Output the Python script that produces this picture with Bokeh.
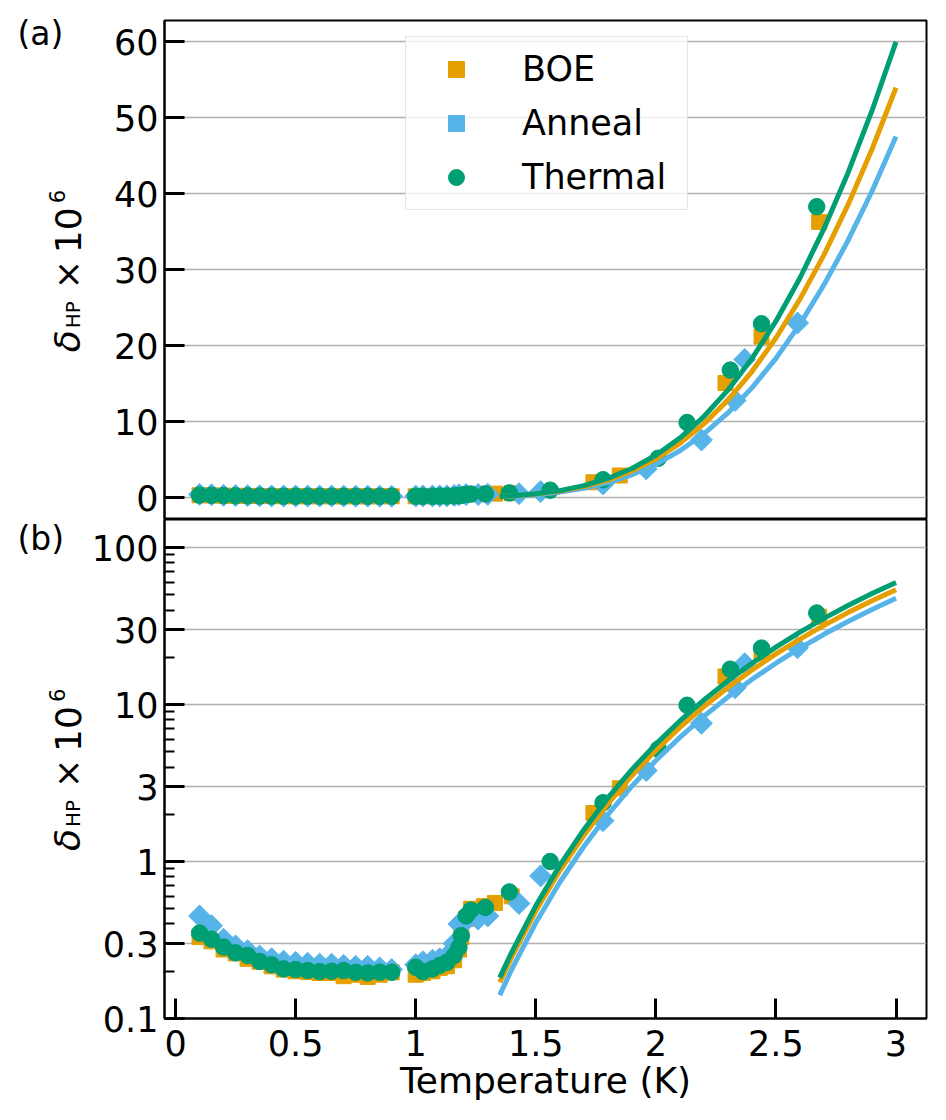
import numpy as np
from bokeh.plotting import figure
from bokeh.models import (Range1d, FixedTicker, CustomJSTickFormatter, Legend,
                          LegendItem)
from bokeh.core.properties import value
from bokeh.layouts import column, row
from bokeh.embed import file_html
from bokeh.resources import INLINE

# ---------------- data ----------------
T_boe = [0.10, 0.15, 0.20, 0.25, 0.30, 0.35, 0.40, 0.45, 0.50, 0.55, 0.60, 0.65,
         0.70, 0.75, 0.80, 0.85, 0.90,
         1.00, 1.03, 1.07, 1.10, 1.13, 1.16, 1.18, 1.19, 1.21, 1.23, 1.285, 1.33,
         1.40, 1.74, 1.85, 2.29, 2.44, 2.68]
v_boe = [0.33, 0.31, 0.275, 0.26, 0.24, 0.23, 0.215, 0.205, 0.20, 0.198, 0.195, 0.195,
         0.186, 0.19, 0.184, 0.19, 0.197,
         0.19, 0.195, 0.20, 0.21, 0.215, 0.235, 0.275, 0.33, 0.43, 0.50, 0.52, 0.545,
         0.60, 2.04, 2.93, 15.1, 21.2, 36.3]

T_ann = [0.10, 0.15, 0.20, 0.25, 0.30, 0.35, 0.40, 0.45, 0.50, 0.55, 0.60, 0.65,
         0.70, 0.75, 0.80, 0.85, 0.90,
         1.00, 1.03, 1.07, 1.10, 1.13, 1.16, 1.18, 1.21, 1.26, 1.30,
         1.43, 1.52, 1.78, 1.96, 2.19, 2.33, 2.37, 2.59]
v_ann = [0.45, 0.39, 0.32, 0.29, 0.27, 0.25, 0.24, 0.232, 0.228, 0.225, 0.222, 0.222,
         0.218, 0.215, 0.215, 0.21, 0.205,
         0.22, 0.23, 0.235, 0.24, 0.25, 0.30, 0.40, 0.42, 0.43, 0.45,
         0.54, 0.81, 1.82, 3.8, 7.6, 12.8, 18.2, 23.0]

T_the = [0.10, 0.15, 0.20, 0.25, 0.30, 0.35, 0.40, 0.45, 0.50, 0.55, 0.60, 0.65,
         0.70, 0.75, 0.80, 0.85, 0.90,
         1.00, 1.03, 1.07, 1.10, 1.13, 1.16, 1.18, 1.19, 1.21, 1.23, 1.29,
         1.39, 1.56, 1.78, 2.01, 2.13, 2.31, 2.44, 2.67]
v_the = [0.35, 0.32, 0.285, 0.262, 0.252, 0.231, 0.220, 0.207, 0.205, 0.202, 0.199, 0.200,
         0.202, 0.197, 0.195, 0.197, 0.197,
         0.212, 0.199, 0.207, 0.218, 0.228, 0.252, 0.284, 0.337, 0.45, 0.49, 0.51,
         0.64, 1.0, 2.37, 5.2, 9.9, 16.8, 22.9, 38.3]

# fitted curves
fit_T = [1.35, 1.4, 1.5, 1.6, 1.7, 1.8, 1.9, 2.0, 2.1, 2.2, 2.3, 2.4, 2.5, 2.6,
         2.7, 2.8, 2.9, 3.0]
fit_boe = [0.170, 0.247, 0.484, 0.873, 1.467, 2.33, 3.52, 5.11, 7.16, 9.72, 12.85,
           16.61, 21.02, 26.13, 31.96, 38.53, 45.86, 53.95]
fit_ann = [0.141, 0.206, 0.407, 0.738, 1.247, 1.99, 3.02, 4.40, 6.18, 8.42, 11.16,
           14.46, 18.34, 22.85, 28.02, 33.83, 40.33, 47.53]
fit_the = [0.182, 0.265, 0.522, 0.945, 1.595, 2.54, 3.85, 5.60, 7.86, 10.69, 14.16,
           18.32, 23.23, 28.92, 35.41, 42.74, 50.93, 59.98]

labels = ["BOE", "Anneal", "Thermal"]
panel_tags = ["(a)", "(b)"]
x_ticks = [0, 0.5, 1, 1.5, 2, 2.5, 3]
lin_ticks = [0, 10, 20, 30, 40, 50, 60]
log_ticks = [0.1, 0.3, 1, 3, 10, 30, 100]
log_minor = [0.2, 0.4, 0.5, 0.6, 0.7, 0.8, 0.9, 2, 4, 5, 6, 7, 8, 9,
             20, 40, 50, 60, 70, 80, 90]

# ---------------- styling ----------------
FONT = "DejaVu Sans"
C_BOE, C_ANN, C_THE = "#E69F00", "#56B4E9", "#009E73"
XR = (-0.046, 3.127)
LW = 88          # width of the strip that holds the rotated y labels
TOP_H, BOT_H = 519, 598
fmt = CustomJSTickFormatter(code="return tick.toString();")


def style_axes(p):
    p.outline_line_color = "black"
    p.outline_line_width = 2
    p.xgrid.visible = False
    p.ygrid.grid_line_color = "#b0b0b0"
    p.ygrid.grid_line_width = 1.6
    for ax in list(p.yaxis) + list(p.xaxis):
        ax.axis_line_width = 2
        ax.major_tick_in = 20
        ax.major_tick_out = 0
        ax.major_tick_line_width = 3
        ax.minor_tick_in = 10
        ax.minor_tick_out = 0
        ax.minor_tick_line_width = 2
        ax.major_label_text_font = FONT
        ax.major_label_text_font_size = "35px"
        ax.major_label_text_color = "black"
        ax.formatter = fmt
    for ax in p.yaxis:
        ax.major_label_standoff = 6


def draw_data(p):
    r_boe = p.scatter(T_boe, v_boe, marker="square", size=15, color=C_BOE)
    r_ann = p.scatter(T_ann, v_ann, marker="square", size=15.5, angle=np.pi / 4,
                      color=C_ANN)
    r_the = p.scatter(T_the, v_the, marker="circle", size=16.5, color=C_THE)
    p.line(fit_T, fit_ann, line_color=C_ANN, line_width=5)
    p.line(fit_T, fit_boe, line_color=C_BOE, line_width=5)
    p.line(fit_T, fit_the, line_color=C_THE, line_width=5)
    return r_boe, r_ann, r_the


def label_strip(height, yc, tag, tag_y):
    """A narrow figure (frame = whole figure, pixel coordinates) holding the
    rotated y-axis label and the panel tag."""
    s = figure(width=LW, height=height, x_range=Range1d(0, LW),
               y_range=Range1d(0, height), x_axis_location=None,
               y_axis_location=None, toolbar_location=None, output_backend="svg",
               min_border=0, outline_line_color=None)
    s.grid.visible = False
    # (text, font size, x of the text's middle line, offset along text, style)
    parts = [("δ", "36px", 67, -82, "italic"), ("HP", "20px", 72, -58, "normal"),
             ("×", "35px", 67, -19, "normal"), ("10", "36px", 67, 17, "normal"),
             ("6", "21px", 56, 67, "normal")]
    for txt, fs, xm, along, style in parts:
        s.text(x=[xm], y=[yc + along], text=[txt], angle=np.pi / 2,
               text_font=value(FONT), text_font_size=value(fs),
               text_font_style=style, text_align="left",
               text_baseline="middle", text_color="black")
    s.text(x=[17], y=[tag_y], text=[tag], text_font=value(FONT),
           text_font_size=value("33px"), text_align="left",
           text_baseline="middle", text_color="black")
    return s


# ---------------- top panel (linear) ----------------
p1 = figure(width=946 - LW, height=TOP_H, x_range=Range1d(*XR),
            y_range=Range1d(-2.86, 62.8),
            x_axis_location=None, output_backend="svg", toolbar_location=None,
            min_border_left=161 - LW, min_border_right=20, min_border_top=20,
            min_border_bottom=0)
p1.yaxis.ticker = FixedTicker(ticks=lin_ticks)
style_axes(p1)
rb, ra, rt = draw_data(p1)

legend = Legend(items=[LegendItem(label=labels[0], renderers=[rb]),
                       LegendItem(label=labels[1], renderers=[ra]),
                       LegendItem(label=labels[2], renderers=[rt])],
                location=(241, 309))
legend.label_text_font = FONT
legend.label_text_font_size = "35px"
legend.label_text_color = "black"
legend.glyph_width = 76
legend.glyph_height = 40
legend.label_height = 40
legend.label_width = 153
legend.label_standoff = 28
legend.padding = 12
legend.spacing = 14
legend.margin = 0
legend.border_line_color = "#cccccc"
legend.border_line_width = 1.5
legend.background_fill_alpha = 0.8
p1.add_layout(legend)

# ---------------- bottom panel (log) ----------------
p2 = figure(width=946 - LW, height=BOT_H, x_range=Range1d(*XR),
            y_range=Range1d(0.1, 151),
            y_axis_type="log", output_backend="svg", toolbar_location=None,
            min_border_left=161 - LW, min_border_right=20, min_border_top=0,
            min_border_bottom=BOT_H - 499)
p2.yaxis.ticker = FixedTicker(ticks=log_ticks, minor_ticks=log_minor)
p2.xaxis.ticker = FixedTicker(ticks=x_ticks)
style_axes(p2)
p2.xaxis.major_label_standoff = 11
p2.xaxis.axis_label = "Temperature (K)"
p2.xaxis.axis_label_text_font = FONT
p2.xaxis.axis_label_text_font_size = "36px"
p2.xaxis.axis_label_text_font_style = "normal"
p2.xaxis.axis_label_text_color = "black"
p2.xaxis.axis_label_standoff = 1
draw_data(p2)

# ---------------- label strips ----------------
s1 = label_strip(TOP_H, TOP_H - 269.75, panel_tags[0], TOP_H - 32.5)
s2 = label_strip(BOT_H, BOT_H - (768.5 - TOP_H), panel_tags[1], BOT_H - (537.5 - TOP_H))

layout = row(column(s1, s2, spacing=0), column(p1, p2, spacing=0), spacing=0)
open("out.html", "w").write(file_html(layout, INLINE))
